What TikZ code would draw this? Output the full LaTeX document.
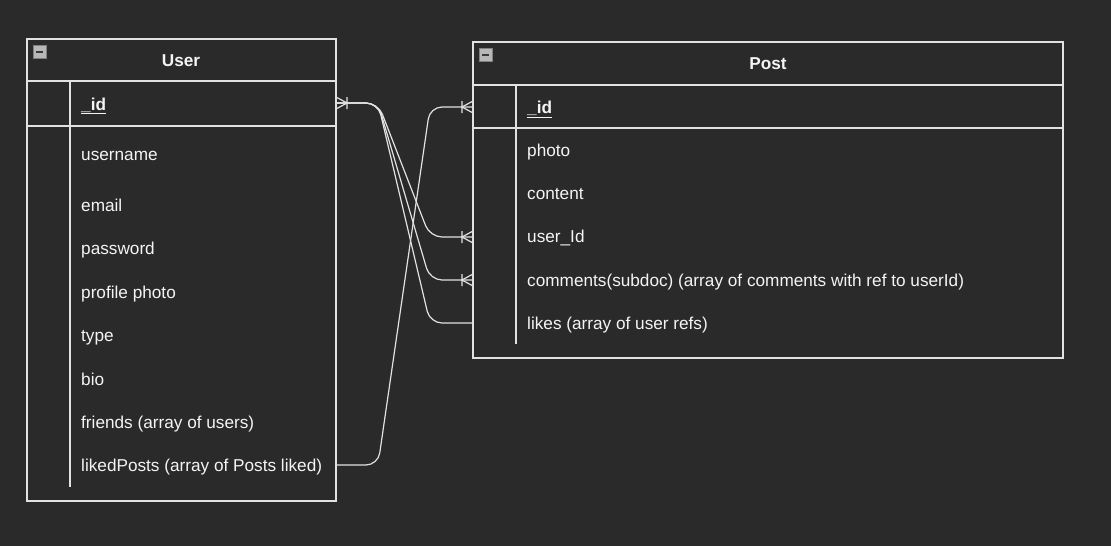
\documentclass[tikz,border=0pt]{standalone}
\usepackage{fontspec}
\setmainfont{Liberation Sans}
\usetikzlibrary{calc}

\definecolor{canvas}{HTML}{2A2A2A}
\definecolor{edge}{HTML}{E2E2E2}
\definecolor{fieldtext}{HTML}{F4F4F4}
\definecolor{iconfill}{HTML}{B8B8B8}
\definecolor{icondark}{HTML}{3A3A3A}

\tikzset{
	field/.style = {anchor = base west, text = fieldtext, inner sep = 0pt, font = \fontsize{17.2}{20}\selectfont},
	title/.style = {anchor = base, text = fieldtext, inner sep = 0pt, font = \fontsize{17.2}{20}\selectfont\bfseries},
	link/.style = {draw = edge, line width = 1.2pt, rounded corners = 12pt},
	crowfoot/.pic = {\draw [edge, line width = 1.2pt] (0,-6) -- (11,0) -- (0,6) (11,-6) -- (11,6);},
	minus/.pic = {
		\filldraw [fill = iconfill, draw = gray, line width = 0.6pt] (0,0) rectangle (13,13);
		\draw [icondark, line width = 2pt] (3,6.5) -- (10,6.5);
	}
}

\begin{document}
\begin{tikzpicture}[x = 1pt, y = -1pt]
	\fill [canvas] (0,0) rectangle (1111,546);
	\useasboundingbox (0,0) rectangle (1111,546);

	% User table
	\begin{scope}[line width = 1.2pt]
		\draw [edge] (27,39) rectangle (336,501);
		\draw [edge] (27,81) -- (336,81);
		\draw [edge] (27,126) -- (336,126);
		\draw [edge] (70,81) -- (70,487);
	\end{scope}
	\pic at (33,45) {minus};
	\node (User) [title] at (181,66.7) {User};
	\node (u-id) [field] at (81,110) {\textbf{\underline{\_id}}};
	\foreach \y/\n/\t in {160.7/username/{username}, 211/email/{email}, 254.5/password/{password},
		298/photo/{profile photo}, 341.5/type/{type}, 385/bio/{bio},
		428.5/friends/{friends (array of users)}, 471.7/likedPosts/{likedPosts (array of Posts liked)}}
	{
		\node (u-\n) [field] at (81,\y) {\t};
	}

	% Post table
	\begin{scope}[line width = 1.2pt]
		\draw [edge] (473,42) rectangle (1063,358);
		\draw [edge] (473,85) -- (1063,85);
		\draw [edge] (473,128) -- (1063,128);
		\draw [edge] (516,85) -- (516,344);
	\end{scope}
	\pic at (479,48) {minus};
	\node (Post) [title] at (768,69.5) {Post};
	\node (p-id) [field] at (527,113.3) {\textbf{\underline{\_id}}};
	\foreach \y/\n/\t in {156/photo/{photo}, 199.3/content/{content}, 242.7/userId/{user\_Id},
		286/comments/{comments(subdoc) (array of comments with ref to userId)},
		329/likes/{likes (array of user refs)}}
	{
		\node (p-\n) [field] at (527,\y) {\t};
	}

	% attachment points
	\coordinate (User-id) at (336,103);
	\coordinate (User-likedPosts) at (336,465);
	\coordinate (Post-id) at (473,107);
	\coordinate (Post-userId) at (473,237);
	\coordinate (Post-comments) at (473,280);
	\coordinate (Post-likes) at (473,323);

	% relations
	\draw [link] (User-id) -- ++(42,0) -- ($(Post-userId) + (-43,0)$) -- (Post-userId);
	\draw [link] (User-id) -- ++(42,0) -- ($(Post-comments) + (-43,0)$) -- (Post-comments);
	\draw [link] (User-id) -- ++(42,0) -- ($(Post-likes) + (-43,0)$) -- (Post-likes);
	\draw [link] (User-likedPosts) -- ++(42,0) -- ($(Post-id) + (-43,0)$) -- (Post-id);

	\pic at (User-id) {crowfoot};
	\pic [rotate = 180] at (Post-id) {crowfoot};
	\pic [rotate = 180] at (Post-userId) {crowfoot};
	\pic [rotate = 180] at (Post-comments) {crowfoot};
\end{tikzpicture}
\end{document}
